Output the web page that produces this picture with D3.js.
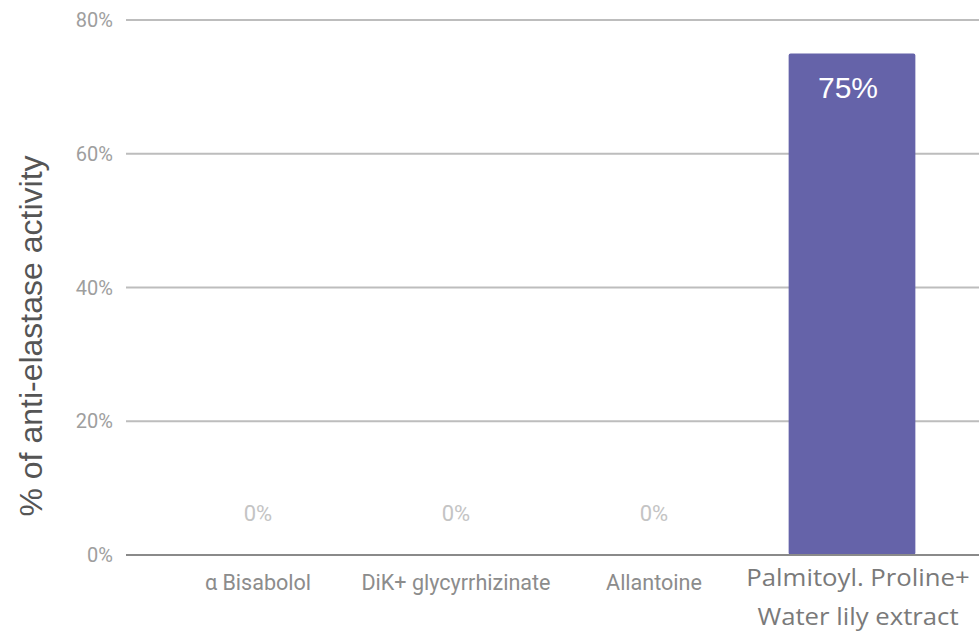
<!DOCTYPE html>
<html><head><meta charset="utf-8">
<script src="https://cdn.jsdelivr.net/npm/d3@7"></script>
<style>body{margin:0;background:#fff}svg{display:block}</style>
</head><body>
<script>
const categories = ["α Bisabolol", "DiK+ glycyrrhizinate", "Allantoine", "Palmitoyl. Proline+|Water lily extract"];
const values = [0, 0, 0, 75];
const yTicks = [0, 20, 40, 60, 80];
const yTitle = "% of anti-elastase activity";

const W = 979, H = 634;
const svg = d3.select("body").append("svg").attr("width", W).attr("height", H);

const y = d3.scaleLinear().domain([0, 80]).range([555, 20]);
const x = d3.scaleBand().domain(categories).range([159, 951]).paddingInner(0.36).paddingOuter(0.18);
const gridX0 = 126, gridX1 = 979;

// gridlines
svg.append("g").selectAll("line").data(yTicks.filter(d => d > 0)).join("line")
  .attr("x1", gridX0).attr("x2", gridX1)
  .attr("y1", d => y(d)).attr("y2", d => y(d))
  .attr("stroke", "#bdbdbd").attr("stroke-width", 2);

// y tick labels
svg.append("g").selectAll("text").data(yTicks).join("text")
  .attr("x", 113).attr("y", d => y(d)).attr("dy", "0.35em")
  .attr("text-anchor", "end")
  .attr("font-family", "Roboto, sans-serif").attr("font-size", 20)
  .attr("fill", "#9e9e9e")
  .text(d => d + "%");

// bars
svg.append("g").selectAll("rect").data(values.map((v, i) => ({c: categories[i], v}))).join("rect")
  .attr("x", d => x(d.c)).attr("width", x.bandwidth())
  .attr("y", d => y(d.v)).attr("height", d => y(0) - y(d.v))
  .attr("rx", 2)
  .attr("fill", "#6563a9");

// baseline
svg.append("line").attr("x1", gridX0).attr("x2", gridX1)
  .attr("y1", y(0)).attr("y2", y(0))
  .attr("stroke", "#8a8a8a").attr("stroke-width", 2);

// value labels
values.forEach((v, i) => {
  const cx = x(categories[i]) + x.bandwidth() / 2;
  if (v > 0) {
    svg.append("text").attr("x", cx - 4).attr("y", y(v) + 45)
      .attr("text-anchor", "middle")
      .attr("font-family", "Liberation Sans, Arial, sans-serif").attr("font-size", 30)
      .attr("fill", "#ffffff").text(v + "%");
  } else {
    svg.append("text").attr("x", cx).attr("y", 521)
      .attr("text-anchor", "middle")
      .attr("font-family", "Roboto, sans-serif").attr("font-size", 22)
      .attr("fill", "#c4c4c4")
      .text(v + "%");
  }
});

// x labels
categories.forEach((c, i) => {
  const cx = x(c) + x.bandwidth() / 2;
  const parts = c.split("|");
  if (parts.length === 1) {
    svg.append("text").attr("x", cx).attr("y", 590)
      .attr("text-anchor", "middle")
      .attr("font-family", "Roboto, sans-serif").attr("font-size", 22)
      .attr("fill", "#8c8c8c")
      .attr("transform", `translate(${cx},590) scale(0.98,1) translate(${-cx},-590)`)
      .text(c);
  } else {
    parts.forEach((p, j) => {
      const ty = 586 + j * 39, tx = cx + 6;
      svg.append("text").attr("x", tx).attr("y", ty)
        .attr("text-anchor", "middle")
        .attr("font-family", "Open Sans, sans-serif").attr("font-size", 24.5)
        .attr("fill", "#7a7a7a")
        .attr("transform", `translate(${tx},${ty}) scale(1.05,1) translate(${-tx},${-ty})`)
        .text(p);
    });
  }
});

// y title
svg.append("text").attr("transform", "translate(42,336) rotate(-90)")
  .attr("text-anchor", "middle")
  .attr("font-family", "Liberation Sans, Arial, sans-serif").attr("font-size", 32)
  .attr("fill", "#555555").text(yTitle);
</script>
</body></html>
